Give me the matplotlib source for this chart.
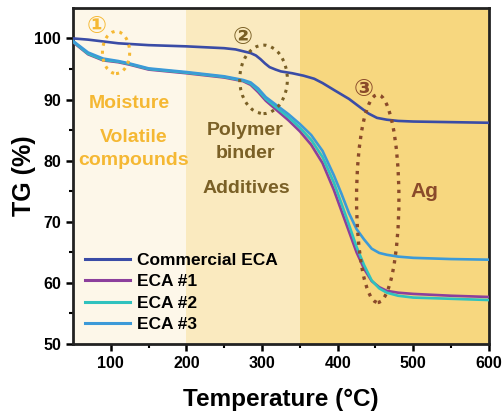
import matplotlib
matplotlib.use("Agg")
import matplotlib.pyplot as plt
from matplotlib.patches import Ellipse

plt.rcParams['font.family'] = ['Liberation Sans', 'DejaVu Sans']
plt.rcParams['font.weight'] = 'bold'

# data
T_com = [50, 70, 90, 110, 150, 200, 250, 265, 275, 285, 292, 298, 304, 310, 318, 325, 340, 355,
         369, 380, 396, 415, 430, 441, 452, 465, 480, 500, 550, 600]
TG_com = [100.0, 99.8, 99.5, 99.2, 98.9, 98.7, 98.4, 98.2, 97.9, 97.6, 97.2, 96.6, 95.9, 95.3,
          94.9, 94.6, 94.3, 93.9, 93.4, 92.7, 91.5, 90.1, 88.7, 87.7, 87.0, 86.7, 86.5, 86.4, 86.3, 86.2]

T_eca = [50, 70, 90, 110, 125, 150, 200, 250, 275, 285, 295, 305, 320, 335, 350, 365, 380,
         395, 405, 415, 425, 435, 445, 455, 465, 480, 500, 550, 600]
TG_eca1 = [99.4, 97.4, 96.4, 96.1, 95.7, 94.9, 94.3, 93.6, 93.0, 92.4, 91.2, 89.8, 88.2, 86.6,
           84.8, 82.6, 79.6, 75.2, 71.8, 68.4, 65.0, 62.3, 60.3, 59.3, 58.7, 58.4, 58.2, 57.9, 57.7]
TG_eca2 = [99.5, 97.5, 96.5, 96.2, 95.8, 95.0, 94.4, 93.7, 93.1, 92.6, 91.5, 90.1, 88.6, 87.1,
           85.4, 83.4, 80.6, 76.4, 73.0, 69.5, 65.9, 62.9, 60.4, 59.1, 58.4, 57.9, 57.6, 57.4, 57.2]
TG_eca3 = [99.6, 97.7, 96.7, 96.3, 95.9, 95.1, 94.5, 93.8, 93.2, 92.8, 91.8, 90.4, 89.0, 87.6,
           86.0, 84.2, 81.6, 77.6, 74.6, 71.4, 68.8, 67.1, 65.6, 64.9, 64.6, 64.3, 64.1, 63.9, 63.8]

labels = ['Commercial ECA', 'ECA #1', 'ECA #2', 'ECA #3']
colors = ['#3a4ca6', '#8c3f9c', '#2fc2be', '#3c9ad8']

fig = plt.figure(figsize=(5.03, 4.13), dpi=100)
ax = fig.add_axes([0.145, 0.167, 0.827, 0.814])

# stage shading
ax.axvspan(50, 200, color='#fdf7e9', zorder=0, lw=0)
ax.axvspan(200, 350, color='#faeabf', zorder=0, lw=0)
ax.axvspan(350, 600, color='#f7d77f', zorder=0, lw=0)

ax.plot(T_com, TG_com, color=colors[0], lw=1.9, label=labels[0], zorder=3)
ax.plot(T_eca, TG_eca1, color=colors[1], lw=1.9, label=labels[1], zorder=3)
ax.plot(T_eca, TG_eca2, color=colors[2], lw=1.9, label=labels[2], zorder=3)
ax.plot(T_eca, TG_eca3, color=colors[3], lw=1.9, label=labels[3], zorder=3)

ax.set_xlim(50, 600)
ax.set_ylim(50, 105)
ax.set_xticks([100, 200, 300, 400, 500, 600])
ax.set_xticks([150, 250, 350, 450, 550], minor=True)
ax.set_yticks([50, 60, 70, 80, 90, 100])
ax.set_yticks([55, 65, 75, 85, 95], minor=True)
ax.tick_params(which='major', direction='out', length=5, width=1.8, labelsize=11.5)
ax.tick_params(which='minor', direction='out', length=3, width=1.5)
for s in ax.spines.values():
    s.set_linewidth(2)
    s.set_color('#222222')
ax.set_xlabel('Temperature (°C)', fontsize=17.5, fontweight='bold', labelpad=12)
ax.set_ylabel('TG (%)', fontsize=18, fontweight='bold', labelpad=-1)

# annotations
c1, c2, c3 = '#f5b833', '#7a6026', '#8a4a2a'
sym = ['DejaVu Sans']
ax.text(81, 102.0, '①', color=c1, fontsize=17, ha='center', va='center', family=sym, fontweight='bold')
ax.add_patch(Ellipse((107, 97.7), 36, 6.9, fill=False, ec=c1, ls=':', lw=2.2, zorder=4))
ax.text(125, 89.3, 'Moisture', color=c1, fontsize=14, ha='center', va='center')
ax.text(130, 83.8, 'Volatile', color=c1, fontsize=14, ha='center', va='center')
ax.text(130, 80.0, 'compounds', color=c1, fontsize=14, ha='center', va='center')

ax.text(275, 100.2, '②', color=c2, fontsize=17, ha='center', va='center', family=sym, fontweight='bold')
ax.add_patch(Ellipse((302, 93.3), 63, 11.2, fill=False, ec=c2, ls=':', lw=2.2, zorder=4))
ax.text(278, 84.9, 'Polymer', color=c2, fontsize=14, ha='center', va='center')
ax.text(278, 81.1, 'binder', color=c2, fontsize=14, ha='center', va='center')
ax.text(279, 75.4, 'Additives', color=c2, fontsize=14, ha='center', va='center')

ax.text(434, 91.8, '③', color=c3, fontsize=17, ha='center', va='center', family=sym, fontweight='bold')
ax.add_patch(Ellipse((453, 73.8), 56, 34, fill=False, ec=c3, ls=':', lw=2.4, zorder=4))
ax.text(515, 75.0, 'Ag', color=c3, fontsize=15, ha='center', va='center')

leg = ax.legend(loc='lower left', bbox_to_anchor=(0.0, 0.0), frameon=False, fontsize=12.5,
                handlelength=2.6, handletextpad=0.4, labelspacing=0.35, borderaxespad=0.3)
for line in leg.get_lines():
    line.set_linewidth(2.2)

fig.savefig('out.png', dpi=100)
